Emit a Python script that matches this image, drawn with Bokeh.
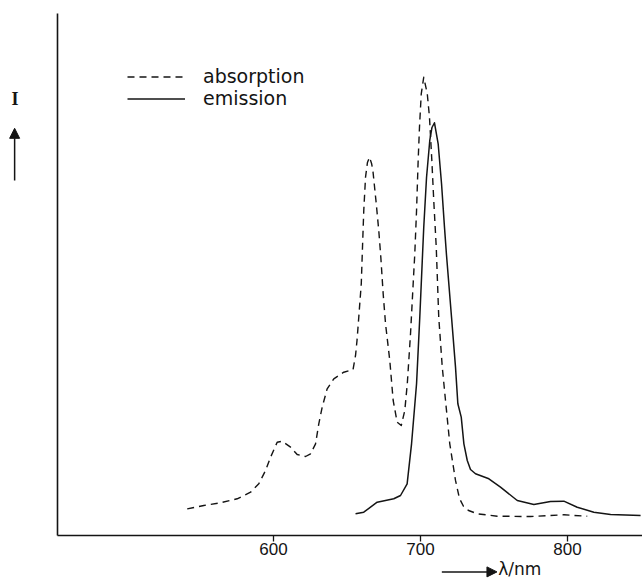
from bokeh.plotting import figure
from bokeh.models import (Range1d, FixedTicker, Legend, LegendItem, Label, Arrow,
                          NormalHead, LinearAxis)
from bokeh.embed import file_html
from bokeh.resources import INLINE

# wavelength (nm) and relative intensity
abs_wl = [541.3, 552.6, 563.9, 575.3, 584.4, 590.0, 594.6, 598.0, 602.5, 605.9,
          611.6, 616.1, 621.8, 625.2, 628.6, 630.8, 633.1, 636.5, 641.0, 647.8,
          654.1, 655.8, 656.8, 658.0, 659.7, 660.5, 661.4, 662.6, 663.9, 665.3,
          666.7, 667.6, 669.9, 671.6, 673.0, 674.6, 676.2, 679.1, 681.4, 684.1,
          686.9, 689.3, 691.0, 693.2, 695.0, 696.1, 697.3, 698.4, 699.3, 700.5,
          702.2, 704.6, 706.1, 707.7, 709.0, 710.7, 712.4, 714.8, 717.0, 719.9,
          723.8, 726.5, 729.3, 732.7, 738.6, 752.2, 774.8, 797.5, 813.4]
abs_int = [5.13, 5.77, 6.29, 7.06, 8.33, 9.94, 12.5, 15.06, 17.94, 18.13,
           16.98, 15.58, 15.19, 15.71, 17.63, 21.48, 24.67, 28.21, 30.13, 31.4,
           31.92, 34.62, 37.5, 41.98, 48.4, 55.19, 62.5, 68.9, 71.73, 72.75,
           71.54, 70.19, 63.79, 58.65, 53.52, 46.48, 40.71, 33.65, 25.96, 21.79,
           21.15, 24.04, 29.17, 38.79, 48.4, 54.17, 62.5, 72.12, 78.52, 84.94,
           88.13, 84.94, 80.44, 72.12, 64.42, 55.44, 41.98, 32.37, 25.96, 17.63,
           10.58, 7.12, 5.58, 4.81, 4.17, 3.71, 3.65, 3.98, 3.71]

em_wl = [655.8, 661.4, 670.5, 681.8, 686.4, 690.9, 693.9, 697.3, 699.5, 701.2,
         702.2, 704.1, 706.3, 707.8, 709.5, 712.0, 714.3, 716.3, 717.7, 721.1,
         723.8, 725.4, 727.7, 729.5, 731.8, 734.0, 737.4, 746.5, 754.4, 765.8,
         777.1, 788.4, 797.5, 806.6, 817.9, 829.3, 849.7]
em_int = [4.17, 4.48, 6.4, 7.06, 7.69, 9.94, 17.63, 29.17, 41.98, 52.88,
          59.29, 68.9, 75.96, 78.46, 79.37, 75.33, 67.63, 59.29, 53.85, 41.98,
          32.37, 25.33, 22.75, 17.63, 14.42, 12.69, 11.87, 10.9, 9.29, 6.73,
          5.96, 6.54, 6.6, 5.44, 4.48, 4.04, 3.85]

x_ticks = [600, 700, 800]
series_names = ["absorption", "emission"]

X0, X1 = 453.06, 851.0      # extent of the wavelength axis
Y0, Y1 = 0.0, 100.4          # extent of the intensity axis

p = figure(width=642, height=582, output_backend="svg", toolbar_location=None,
           x_range=Range1d(414.29, 851.0), y_range=Range1d(-9.04, 102.88),
           x_axis_location=None, y_axis_location=None,
           min_border_left=0, min_border_right=0, min_border_top=0,
           min_border_bottom=0)
p.background_fill_color = "white"
p.border_fill_color = "white"
p.outline_line_color = None
p.grid.visible = False

ink = "#141414"

r_abs = p.line(abs_wl, abs_int, line_color=ink, line_width=1.4,
               line_dash="7 5", line_join="round")
r_em = p.line(em_wl, em_int, line_color=ink, line_width=1.5, line_join="round")

xaxis = LinearAxis(fixed_location=Y0, bounds=(X0, X1))
xaxis.ticker = FixedTicker(ticks=x_ticks)
xaxis.minor_tick_line_color = None
xaxis.major_tick_in = 0
xaxis.major_tick_out = 6
xaxis.major_tick_line_color = ink
xaxis.major_tick_line_width = 1.3
xaxis.axis_line_color = ink
xaxis.axis_line_width = 1.6
xaxis.major_label_text_font = "Liberation Sans"
xaxis.major_label_text_font_size = "17px"
xaxis.major_label_text_color = ink
xaxis.major_label_standoff = 2
p.add_layout(xaxis, "below")

yaxis = LinearAxis(fixed_location=X0, bounds=(Y0, Y1))
yaxis.ticker = FixedTicker(ticks=[])
yaxis.minor_tick_line_color = None
yaxis.major_tick_line_color = None
yaxis.major_label_text_font_size = "0px"
yaxis.axis_line_color = ink
yaxis.axis_line_width = 1.6
p.add_layout(yaxis, "left")

legend = Legend(items=[LegendItem(label=series_names[0], renderers=[r_abs]),
                       LegendItem(label=series_names[1], renderers=[r_em])],
                location=(127, 473), orientation="vertical")
legend.margin = 0
legend.padding = 0
legend.spacing = 0
legend.glyph_width = 58
legend.glyph_height = 21
legend.label_height = 21
legend.label_standoff = 18
legend.label_text_font = "DejaVu Sans"
legend.label_text_font_size = "19px"
legend.label_text_color = ink
legend.border_line_color = None
legend.background_fill_alpha = 0
p.add_layout(legend)

# y-axis label "I" with upward arrow
p.add_layout(Label(x=424.15, y=83.85, text="I", text_font="Liberation Serif",
                   text_font_size="18px", text_font_style="bold",
                   text_align="center", text_baseline="middle", text_color=ink))
p.add_layout(Arrow(end=NormalHead(size=10, fill_color=ink, line_color=ink),
                   x_start=423.9, y_start=68.27, x_end=423.9, y_end=78.3,
                   line_color=ink, line_width=1.5))

# x-axis label with arrow
p.add_layout(Arrow(end=NormalHead(size=10, fill_color=ink, line_color=ink),
                   x_start=714.5, y_start=-7.0, x_end=752.0, y_end=-7.0,
                   line_color=ink, line_width=1.5))
p.add_layout(Label(x=752.8, y=-6.35, text="λ/nm", text_font="DejaVu Sans",
                   text_font_size="17px", text_align="left",
                   text_baseline="middle", text_color=ink))

open("out.html", "w").write(file_html(p, INLINE))
